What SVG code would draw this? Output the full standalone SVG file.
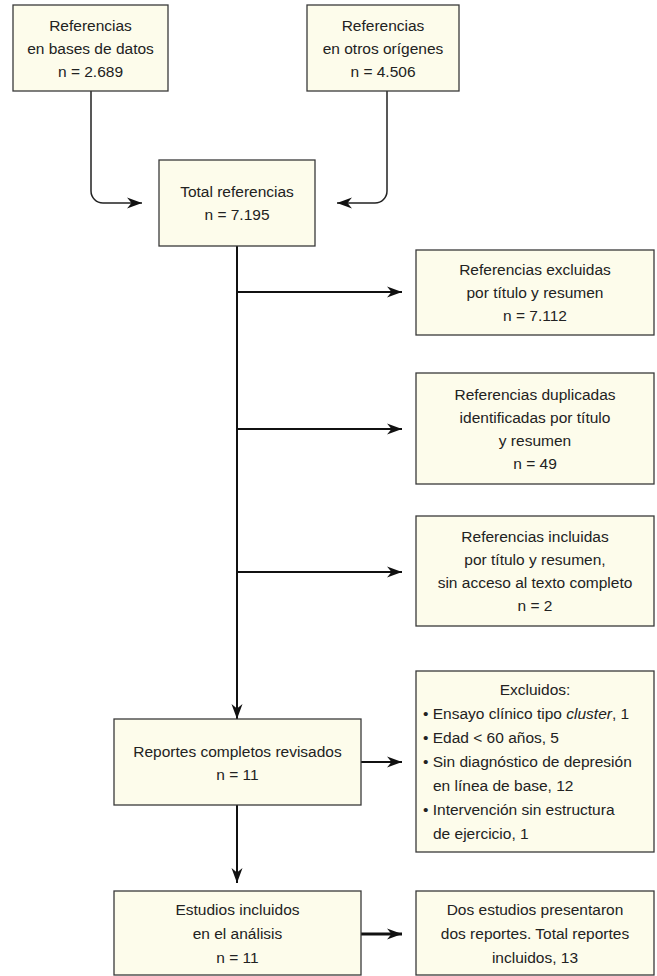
<svg xmlns="http://www.w3.org/2000/svg" width="657" height="976" viewBox="0 0 657 976">
<style>
.box{fill:#fdfceb;stroke:#3a3a3a;stroke-width:1.3}
text{font-family:"Liberation Sans",Arial,sans-serif;font-size:15.5px;fill:#222}
.c{text-anchor:middle}
.ln{fill:none;stroke:#111;stroke-width:2}
.cv{fill:none;stroke:#222;stroke-width:1.5}
.th{fill:none;stroke:#111;stroke-width:3}
</style>
<defs>
<marker id="ah" markerUnits="userSpaceOnUse" markerWidth="18" markerHeight="14" viewBox="-16 -7 18 14" refX="0" refY="0" orient="auto">
<path d="M0,0 L-15,-5.5 L-10.5,0 L-15,5.5 Z" fill="#111"/>
</marker>
</defs>
<rect width="657" height="976" fill="#fff"/>
<g id="connectors">
<path class="cv" d="M91,91 V191 A12,12 0 0 0 103,203 H142" marker-end="url(#ah)"/>
<path class="cv" d="M387,91 V191 A12,12 0 0 1 375,203 H337" marker-end="url(#ah)"/>
<path class="ln" d="M237,246 V719" marker-end="url(#ah)"/>
<path class="ln" d="M237,292 H402" marker-end="url(#ah)"/>
<path class="ln" d="M237,429 H402" marker-end="url(#ah)"/>
<path class="ln" d="M237,572 H402" marker-end="url(#ah)"/>
<path class="ln" d="M361,762 H402" marker-end="url(#ah)"/>
<path class="ln" d="M237,805 V883" marker-end="url(#ah)"/>
<path class="th" d="M361,934 H402" marker-end="url(#ah)"/>
</g>
<g id="n-bases">
<rect class="box" x="13" y="5" width="155" height="86"/>
<text class="c" x="90.5" y="31">Referencias</text>
<text class="c" x="90.5" y="54">en bases de datos</text>
<text class="c" x="90.5" y="77">n = 2.689</text>
</g>
<g id="n-otros">
<rect class="box" x="307" y="5" width="152" height="86"/>
<text class="c" x="383" y="31">Referencias</text>
<text class="c" x="383" y="54">en otros orígenes</text>
<text class="c" x="383" y="77">n = 4.506</text>
</g>
<g id="n-total">
<rect class="box" x="159" y="160" width="156" height="86"/>
<text class="c" x="237" y="197">Total referencias</text>
<text class="c" x="237" y="220">n = 7.195</text>
</g>
<g id="n-excluidas">
<rect class="box" x="416" y="250" width="238" height="85"/>
<text class="c" x="535" y="275">Referencias excluidas</text>
<text class="c" x="535" y="298">por título y resumen</text>
<text class="c" x="535" y="321">n = 7.112</text>
</g>
<g id="n-duplicadas">
<rect class="box" x="416" y="373" width="238" height="111"/>
<text class="c" x="535" y="399.5">Referencias duplicadas</text>
<text class="c" x="535" y="422.5">identificadas por título</text>
<text class="c" x="535" y="445.5">y resumen</text>
<text class="c" x="535" y="468.5">n = 49</text>
</g>
<g id="n-incluidas">
<rect class="box" x="416" y="516" width="238" height="110"/>
<text class="c" x="535" y="542">Referencias incluidas</text>
<text class="c" x="535" y="565">por título y resumen,</text>
<text class="c" x="535" y="588">sin acceso al texto completo</text>
<text class="c" x="535" y="611">n = 2</text>
</g>
<g id="n-reportes">
<rect class="box" x="114" y="719" width="247" height="86"/>
<text class="c" x="237.5" y="756.5">Reportes completos revisados</text>
<text class="c" x="237.5" y="779.5">n = 11</text>
</g>
<g id="n-excluidos">
<rect class="box" x="416" y="671" width="238" height="181"/>
<text class="c" x="535" y="695">Excluidos:</text>
<text x="423" y="719">• Ensayo clínico tipo <tspan font-style="italic">cluster</tspan>, 1</text>
<text x="423" y="743">• Edad &lt; 60 años, 5</text>
<text x="423" y="767">• Sin diagnóstico de depresión</text>
<text x="433" y="791">en línea de base, 12</text>
<text x="423" y="815">• Intervención sin estructura</text>
<text x="433" y="839">de ejercicio, 1</text>
</g>
<g id="n-estudios">
<rect class="box" x="114" y="891" width="247" height="84"/>
<text class="c" x="237.5" y="914.5">Estudios incluidos</text>
<text class="c" x="237.5" y="938.5">en el análisis</text>
<text class="c" x="237.5" y="962.5">n = 11</text>
</g>
<g id="n-dos">
<rect class="box" x="416" y="891" width="238" height="84"/>
<text class="c" x="535" y="914.5">Dos estudios presentaron</text>
<text class="c" x="535" y="938.5">dos reportes. Total reportes</text>
<text class="c" x="535" y="962.5">incluidos, 13</text>
</g>
</svg>
